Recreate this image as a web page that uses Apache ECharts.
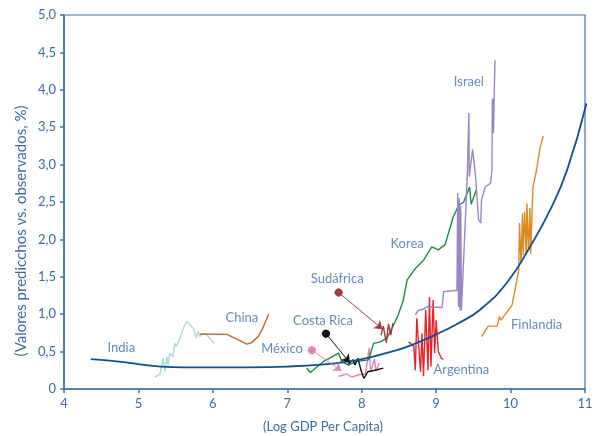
<!DOCTYPE html>
<html>
<head>
<meta charset="utf-8">
<script src="https://cdn.jsdelivr.net/npm/echarts@6/dist/echarts.min.js"></script>
<style>
  html, body { margin: 0; padding: 0; background: #fff; }
  #chart { width: 597px; height: 436px; }
</style>
</head>
<body>
<div id="chart"></div>
<script>
// fitted curve (predicted)
var curve = [[4.36, 0.40], [4.8, 0.36], [5.3, 0.30], [5.6, 0.29], [6.5, 0.29], [7.0, 0.30],
    [7.5, 0.33], [7.8, 0.365], [8.1, 0.42], [8.4, 0.50], [8.65, 0.58], [9.0, 0.73],
    [9.3, 0.88], [9.59, 1.06], [9.95, 1.42], [10.26, 1.90], [10.53, 2.39], [10.76, 2.93], [11.02, 3.82]];

var india = [[5.22, 0.16], [5.29, 0.20], [5.33, 0.41], [5.36, 0.23], [5.38, 0.43], [5.40, 0.32],
    [5.42, 0.48], [5.46, 0.43], [5.49, 0.61], [5.51, 0.57], [5.55, 0.66], [5.58, 0.74],
    [5.61, 0.83], [5.65, 0.90], [5.69, 0.86], [5.74, 0.81], [5.76, 0.79], [5.78, 0.68],
    [5.80, 0.77], [5.83, 0.70], [5.86, 0.74], [5.92, 0.72], [6.02, 0.61]];

var china = [[5.83, 0.735], [6.19, 0.73], [6.46, 0.60], [6.52, 0.62], [6.61, 0.70], [6.66, 0.79], [6.75, 1.00]];

var mexico = [[7.69, 0.17], [7.80, 0.20], [7.87, 0.16], [7.96, 0.19], [8.05, 0.20], [8.08, 0.41],
    [8.10, 0.55], [8.12, 0.23], [8.17, 0.40], [8.19, 0.25], [8.24, 0.35]];

var costaRica = [[7.82, 0.33], [7.88, 0.39], [7.91, 0.32], [7.95, 0.41], [7.99, 0.25], [8.03, 0.14],
    [8.08, 0.23], [8.18, 0.25], [8.29, 0.28]];

var sudafrica = [[8.26, 0.72], [8.29, 0.84], [8.33, 0.62], [8.36, 0.87], [8.39, 0.72], [8.42, 0.88]];

var korea = [[7.26, 0.28], [7.31, 0.22], [7.49, 0.37], [7.69, 0.48], [7.73, 0.37], [7.82, 0.32],
    [7.93, 0.37], [8.09, 0.39], [8.16, 0.61], [8.25, 0.63], [8.34, 0.68], [8.43, 0.86],
    [8.49, 0.99], [8.56, 1.19], [8.61, 1.46], [8.72, 1.61], [8.83, 1.72], [8.94, 1.90],
    [9.03, 1.86], [9.12, 1.93], [9.23, 2.30], [9.30, 2.45], [9.37, 2.50], [9.45, 2.70],
    [9.47, 2.47], [9.54, 2.66]];

var argentina = [[8.63, 0.63], [8.70, 0.57], [8.72, 0.25], [8.74, 0.95], [8.79, 0.23], [8.81, 0.74],
    [8.83, 0.17], [8.86, 1.06], [8.89, 0.25], [8.91, 1.23], [8.93, 0.30], [8.96, 1.19],
    [8.98, 0.48], [9.00, 0.92], [9.03, 0.50], [9.07, 0.41], [9.10, 0.40]];

var israel = [[8.72, 0.99], [8.76, 1.05], [8.83, 1.07], [8.88, 1.10], [9.08, 1.09], [9.10, 1.30],
    [9.28, 1.32], [9.29, 2.62], [9.30, 1.10], [9.31, 2.55], [9.32, 1.05], [9.33, 2.45],
    [9.34, 1.05], [9.42, 2.90], [9.44, 3.69], [9.445, 2.84], [9.49, 3.20], [9.53, 2.84],
    [9.57, 2.26], [9.60, 2.22], [9.61, 2.53], [9.66, 2.70], [9.73, 2.75], [9.75, 2.93],
    [9.755, 3.88], [9.76, 3.42], [9.765, 3.88], [9.77, 3.42], [9.79, 4.40]];

var finlandia = [[9.61, 0.70], [9.70, 0.84], [9.82, 0.84], [9.85, 0.97], [9.87, 0.92], [10.02, 1.12],
    [10.11, 1.59], [10.12, 2.22], [10.14, 1.68], [10.16, 2.35], [10.17, 1.79], [10.19, 2.37],
    [10.21, 1.79], [10.22, 2.48], [10.24, 1.84], [10.26, 2.42], [10.27, 1.81], [10.30, 2.70],
    [10.34, 2.88], [10.40, 3.24], [10.44, 3.38]];

// arrows: [start, end]
var arrowSudafrica = [[7.69, 1.29], [8.28, 0.80]];
var arrowCostaRica = [[7.52, 0.74], [7.84, 0.35]];
var arrowMexico = [[7.33, 0.52], [7.73, 0.24]];

// country labels
var labelNames = ['India', 'China', 'México', 'Costa Rica', 'Sudáfrica', 'Korea', 'Israel', 'Finlandia', 'Argentina'];
var labelPos = [[4.77, 0.55], [6.39, 0.95], [6.93, 0.54], [7.48, 0.91], [7.67, 1.47], [8.61, 1.94],
    [9.44, 4.11], [10.35, 0.86], [9.34, 0.25]];

var yTicks = ['0', '0,5', '1,0', '1,5', '2,0', '2,5', '3,0', '3,5', '4,0', '4,5', '5,0'];

var axisBlue = '#3f72ad';
var textBlue = '#3a6ba8';
var font = 'Lato';

function country(name, data, color, width) {
    return {
        name: name, type: 'line', data: data, symbol: 'none',
        lineStyle: { color: color, width: width || 1.4 },
        z: 3
    };
}

function arrow(s, pts, color) {
    s.markLine = {
        silent: true, animation: false,
        symbol: ['circle', 'arrow'], symbolSize: [8, 8],
        label: { show: false },
        lineStyle: { color: color, width: 1, type: 'solid' },
        data: [[{ coord: pts[0] }, { coord: pts[1] }]]
    };
    return s;
}

var series = [
    country('India', india, '#a9d9d3'),
    country('China', china, '#c0632c'),
    arrow(country('México', mexico, '#e287b8'), arrowMexico, '#e287b8'),
    country('Korea', korea, '#1f8a3c'),
    arrow(country('Sudáfrica', sudafrica, '#9e3c44'), arrowSudafrica, '#9e3c44'),
    arrow(country('Costa Rica', costaRica, '#111111'), arrowCostaRica, '#111111'),
    country('Argentina', argentina, '#e3262b'),
    country('Israel', israel, '#9886c6'),
    country('Finlandia', finlandia, '#d98b20'),
    {
        name: 'curve', type: 'line', data: curve, symbol: 'none', smooth: true,
        lineStyle: { color: '#0f4f98', width: 1.8 }, z: 4
    },
    {
        name: 'labels', type: 'scatter', symbolSize: 0, silent: true,
        data: labelPos.map(function (p, i) { return { value: p, name: labelNames[i] }; }),
        label: {
            show: true, position: 'inside', formatter: '{b}',
            color: textBlue, fontFamily: font, fontSize: 13
        },
        z: 5
    }
];

var chart = echarts.init(document.getElementById('chart'));
chart.setOption({
    animation: false,
    grid: {
        left: 64, right: 12, top: 15, bottom: 47,
        show: true, borderColor: axisBlue, borderWidth: 1.2
    },
    graphic: [
        {
            type: 'text', x: 21, y: 231,
            rotation: Math.PI / 2,
            style: {
                text: '(Valores predicchos vs. observados, %)',
                fill: textBlue, font: '15px Lato',
                align: 'center', verticalAlign: 'middle'
            }
        },
        {
            type: 'text', x: 323, y: 427,
            style: {
                text: '(Log GDP Per Capita)', fill: textBlue, font: '13px Lato',
                align: 'center', verticalAlign: 'middle'
            }
        }
    ],
    xAxis: {
        type: 'value', min: 4, max: 11, interval: 1,
        axisLine: { lineStyle: { color: axisBlue, width: 1.6 } },
        axisTick: { show: true, length: 4, lineStyle: { color: axisBlue, width: 1.5 } },
        axisLabel: { color: textBlue, fontFamily: font, fontSize: 13, margin: 8 },
        splitLine: { show: false }
    },
    yAxis: {
        type: 'value', min: 0, max: 5, interval: 0.5,
        axisLine: { show: true, lineStyle: { color: axisBlue, width: 1.6 } },
        axisTick: { show: true, length: 4, lineStyle: { color: axisBlue, width: 1.5 } },
        axisLabel: {
            color: textBlue, fontFamily: font, fontSize: 13, margin: 8,
            formatter: function (v) { return yTicks[Math.round(v / 0.5)]; }
        },
        splitLine: { show: false }
    },
    series: series
});
</script>
</body>
</html>
